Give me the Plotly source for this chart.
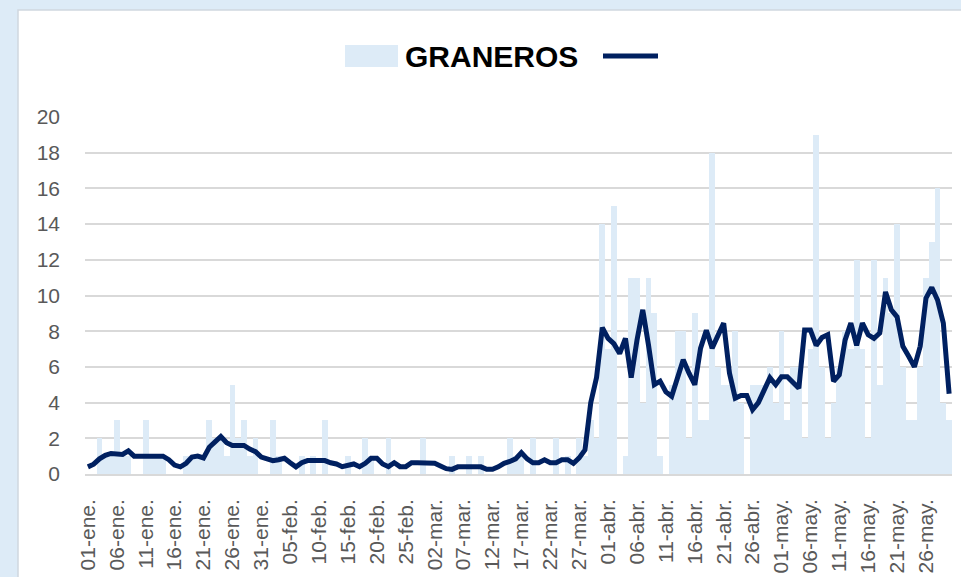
import plotly.graph_objects as go

# ---- data -------------------------------------------------------------
month_names = ["ene.", "feb.", "mar.", "abr.", "may."]
month_days = [31, 28, 31, 30, 30]

categories = []
for m, n in zip(month_names, month_days):
    for d in range(1, n + 1):
        categories.append(f"{d:02d}-{m}")

daily_values = [
    0, 0, 2, 1, 1, 3, 1, 1, 0, 0,
    3, 1, 1, 1, 0, 0, 0, 1, 1, 1,
    1, 3, 2, 2, 1, 5, 2, 3, 1, 2,
    0, 0, 3, 1, 0, 0, 0, 1, 0, 1,
    0, 3, 0, 0, 0, 1, 0, 0, 2, 1,
    0, 0, 2, 0, 0, 0, 0, 0, 2, 0,
    0, 0, 0, 1, 0, 0, 1, 0, 1, 0,
    0, 0, 0, 2, 1, 1, 0, 2, 0, 0,
    0, 2, 0, 1, 0, 2, 1, 3, 2, 14,
    7, 15, 0, 1, 11, 11, 4, 11, 9, 1,
    0, 5, 8, 8, 2, 9, 3, 3, 18, 6,
    5, 5, 8, 4, 0, 5, 5, 5, 6, 4,
    8, 3, 6, 6, 2, 7, 19, 6, 2, 4,
    6, 8, 7, 12, 7, 2, 12, 5, 11, 9,
    14, 6, 3, 3, 6, 11, 13, 16, 4, 3,
]

trend_values = [
    0.4, 0.55, 0.85, 1.05, 1.15, 1.15, 1.1, 1.3, 1.0, 1.0,
    1.0, 1.0, 1.0, 1.0, 0.8, 0.5, 0.4, 0.6, 0.95, 1.0,
    0.9, 1.5, 1.8, 2.1, 1.75, 1.6, 1.6, 1.6, 1.4, 1.25,
    0.95, 0.88, 0.75, 0.8, 0.88, 0.63, 0.4, 0.63, 0.75, 0.75,
    0.75, 0.75, 0.63, 0.56, 0.41, 0.5, 0.56, 0.41, 0.6, 0.88,
    0.88, 0.56, 0.41, 0.63, 0.41, 0.41, 0.63, 0.63, 0.63, 0.63,
    0.6, 0.45, 0.3, 0.26, 0.4, 0.4, 0.4, 0.4, 0.4, 0.26,
    0.26, 0.4, 0.6, 0.7, 0.85, 1.2, 0.85, 0.63, 0.63, 0.8,
    0.63, 0.63, 0.8, 0.8, 0.6, 0.9, 1.35, 4.0, 5.4, 8.2,
    7.6, 7.3, 6.75, 7.6, 5.4, 7.5, 9.2, 7.2, 5.0, 5.2,
    4.6, 4.35, 5.45, 6.4, 5.65, 5.0, 7.05, 8.05, 7.05, 7.7,
    8.45, 5.65, 4.25, 4.4, 4.4, 3.6, 4.0, 4.7, 5.4, 5.0,
    5.45, 5.45, 5.1, 4.8, 8.07, 8.07, 7.2, 7.65, 7.8, 5.2,
    5.55, 7.5, 8.45, 7.2, 8.45, 7.8, 7.6, 7.9, 10.2, 9.2,
    8.8, 7.15, 6.6, 6.0, 7.15, 9.85, 10.45, 9.75, 8.45, 4.5,
]

tick_labels = categories[::5]
y_ticks = list(range(0, 21, 2))
series_name = "GRANEROS"

# ---- styling ----------------------------------------------------------
W, H = 961, 577
ML, MR, MT, MB = 85, 9, 117, 103
PW = W - ML - MR
PH = H - MT - MB

BAR_COLOR = "#DDEBF7"
LINE_COLOR = "#002060"
GRID = "#D9D9D9"
TXT = "#595959"
FONT = "Liberation Sans"


def px_x(px):
    return (px - ML) / PW


def px_y(py):
    return (H - MB - py) / PH


fig = go.Figure()
fig.add_trace(go.Bar(
    x=categories, y=daily_values, name=series_name,
    marker=dict(color=BAR_COLOR, line=dict(width=0)),
    showlegend=False,
))
fig.add_trace(go.Scatter(
    x=categories, y=trend_values, name=" ", mode="lines",
    line=dict(color=LINE_COLOR, width=5),
    showlegend=False,
))

shapes = [
    # white chart panel over the light-blue background
    dict(type="rect", xref="paper", yref="paper", layer="below",
         x0=px_x(18), x1=px_x(975), y0=px_y(590), y1=px_y(10),
         fillcolor="white", line=dict(color="#D0D7E0", width=1.5)),
    # legend swatches
    dict(type="rect", xref="paper", yref="paper",
         x0=px_x(345), x1=px_x(398), y0=px_y(67), y1=px_y(45),
         fillcolor=BAR_COLOR, line=dict(width=0)),
    dict(type="line", xref="paper", yref="paper",
         x0=px_x(603), x1=px_x(658), y0=px_y(56), y1=px_y(56),
         line=dict(color=LINE_COLOR, width=5)),
]

annotations = [
    dict(text=f"<b>{series_name}</b>", xref="paper", yref="paper",
         x=px_x(491), y=px_y(57), xanchor="center", yanchor="middle",
         showarrow=False, font=dict(family=FONT, size=30, color="black")),
]

fig.update_layout(
    width=W, height=H,
    margin=dict(l=ML, r=MR, t=MT, b=MB, pad=0, autoexpand=False),
    paper_bgcolor=BAR_COLOR,
    plot_bgcolor="white",
    bargap=0,
    shapes=shapes,
    annotations=annotations,
    font=dict(family=FONT, color=TXT),
    xaxis=dict(
        type="category", automargin=False,
        tickmode="array", tickvals=tick_labels, ticktext=tick_labels,
        tickangle=-90,
        tickfont=dict(family=FONT, size=21, color=TXT),
        showline=True, linecolor=GRID, linewidth=1.5,
        showgrid=False, ticks="", ticklabelstandoff=15,
    ),
    yaxis=dict(
        range=[0, 20], tickvals=y_ticks, automargin=False,
        tickfont=dict(family=FONT, size=21, color=TXT),
        showgrid=True, gridcolor=GRID, gridwidth=1.5,
        zeroline=False, showline=False, ticks="",
        ticklabelstandoff=24,
    ),
)

fig.write_html(
    "out.html",
    config={"displayModeBar": False},
    post_script="document.body.style.margin='0px';",
)
